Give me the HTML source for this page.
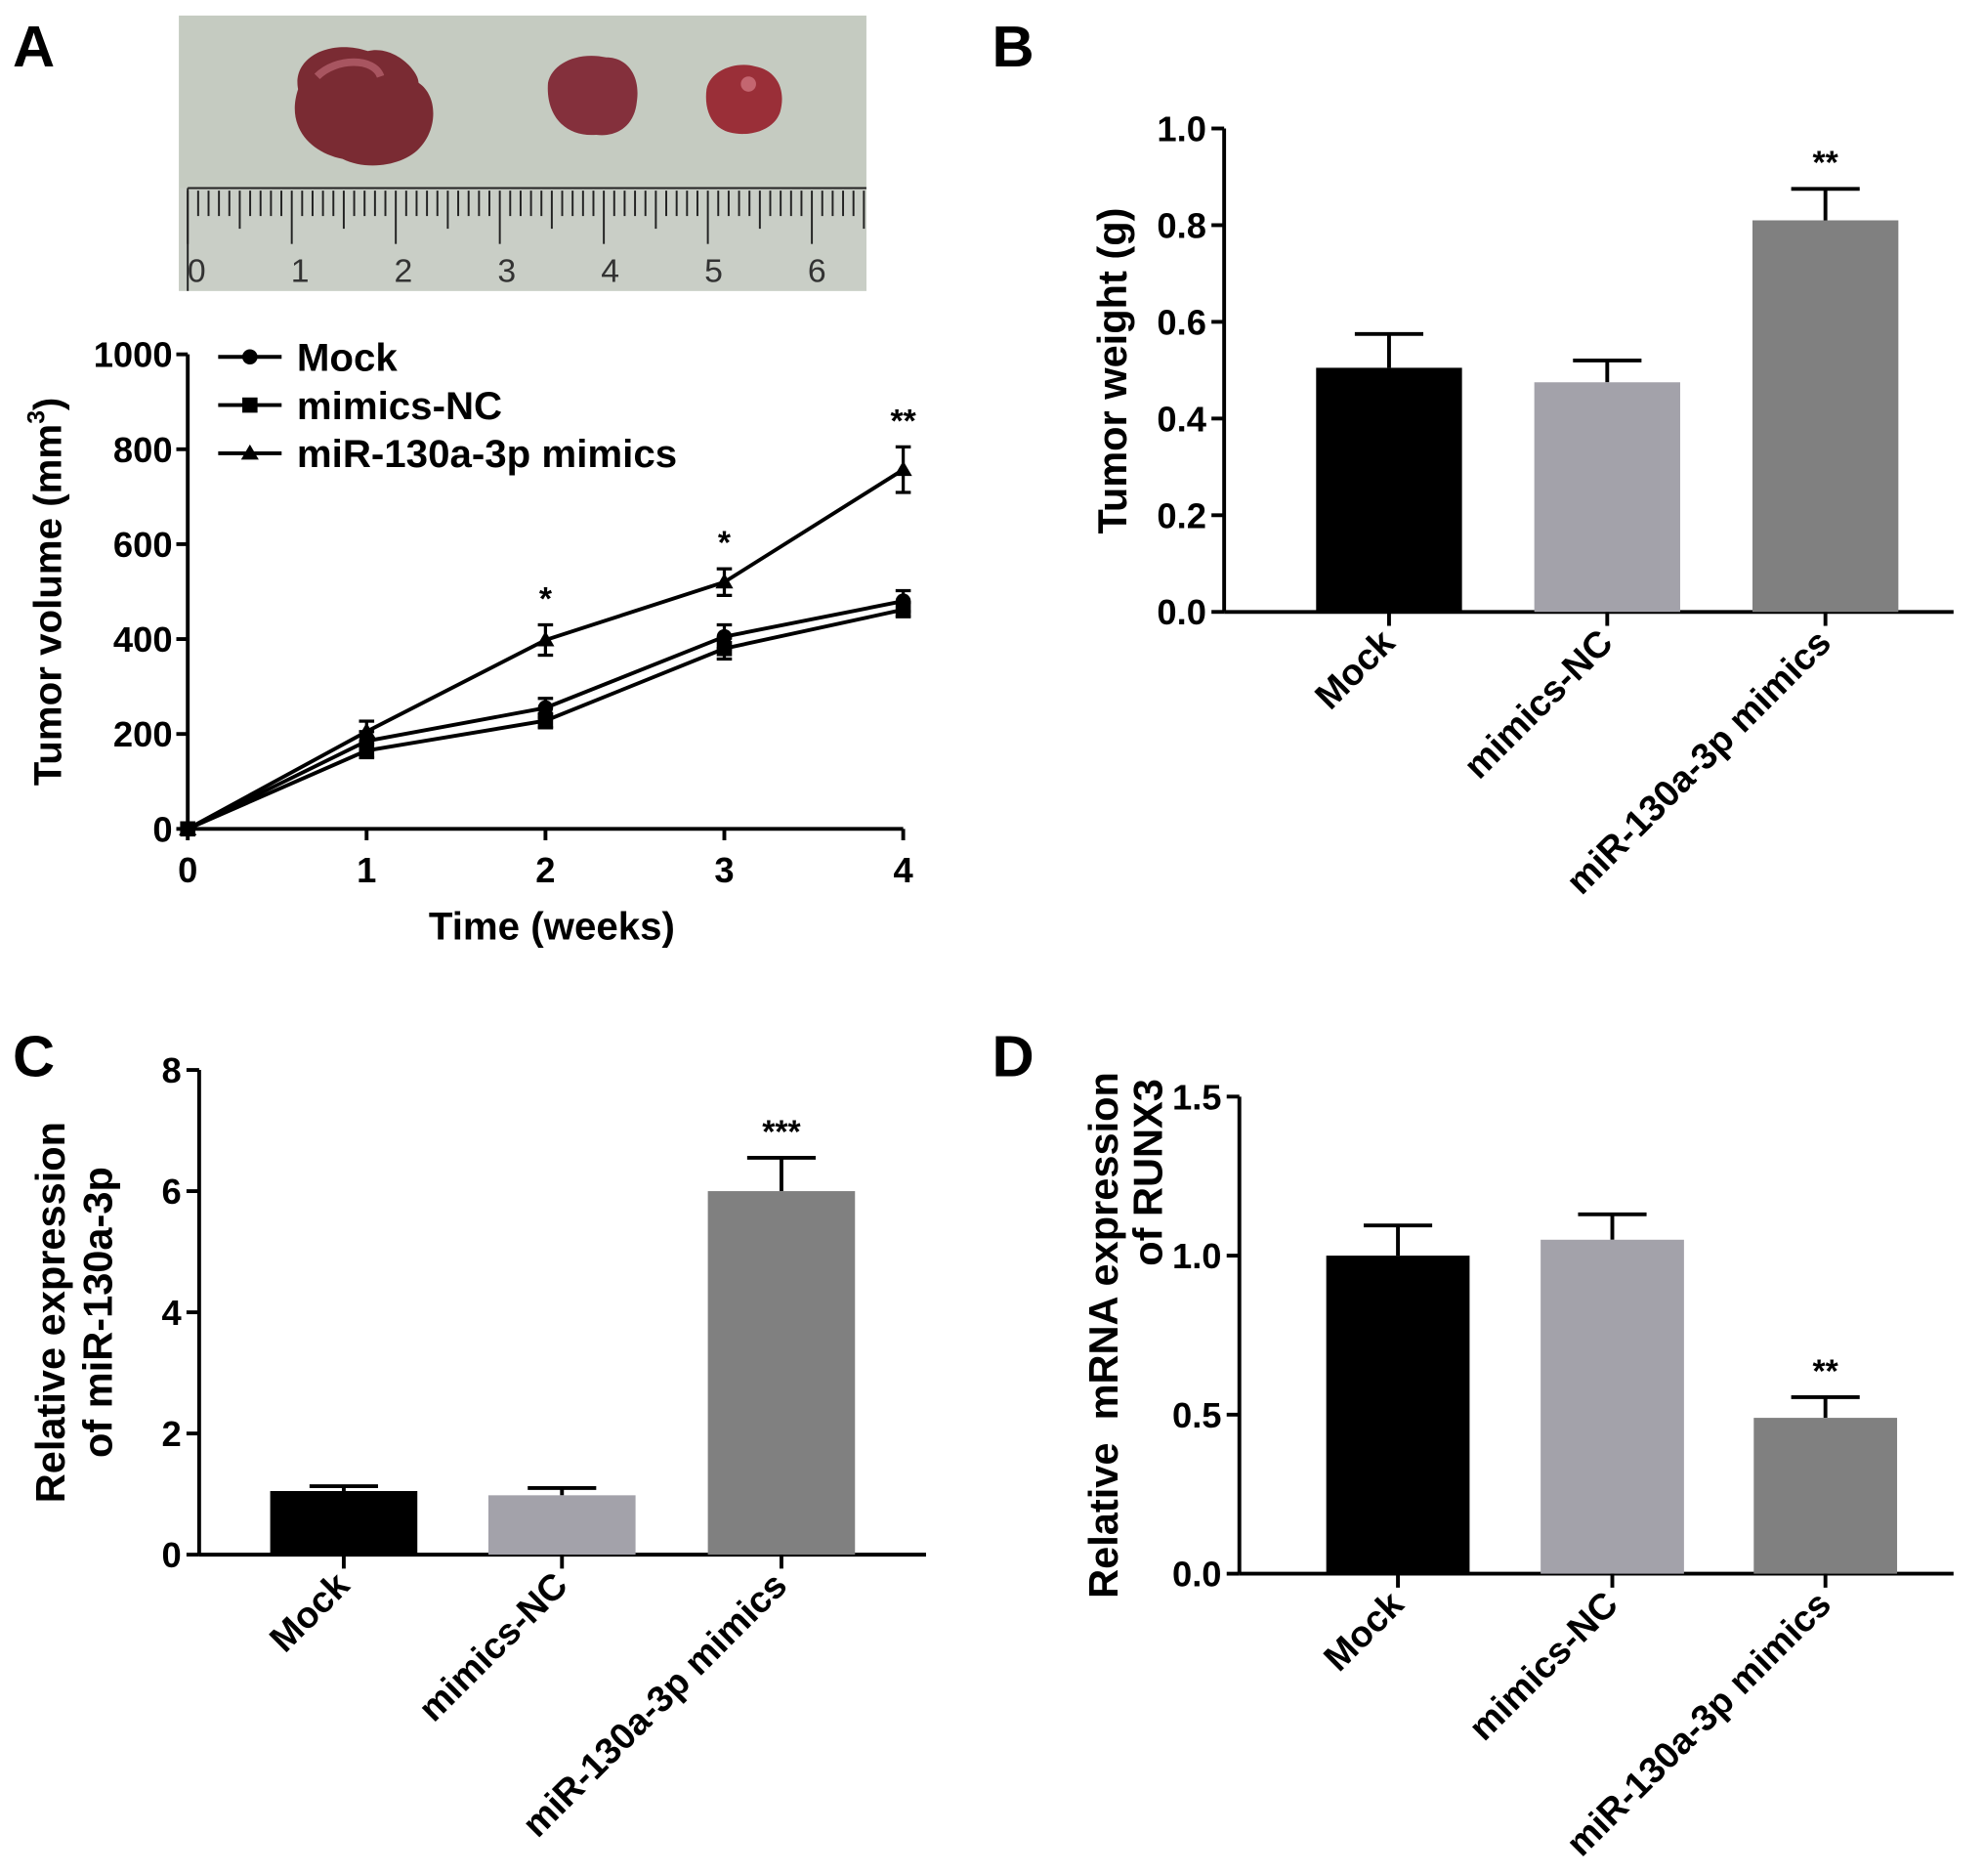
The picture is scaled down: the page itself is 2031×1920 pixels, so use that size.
<!DOCTYPE html>
<html><head><meta charset="utf-8"><style>
html,body{margin:0;padding:0;background:#fff}
svg{display:block}
text{font-family:"Liberation Sans",Arial,sans-serif;font-weight:bold;fill:#000}
text.thin{font-weight:normal;fill:#333}
</style></head><body>
<svg id="fig" width="2031" height="1920" viewBox="0 0 1564 1478" xmlns="http://www.w3.org/2000/svg">
<rect width="1564" height="1478" fill="#fff"/>
<text x="10" y="52" font-size="46">A</text>
<text x="782" y="52" font-size="46">B</text>
<text x="10" y="848" font-size="46">C</text>
<text x="782" y="848" font-size="46">D</text>
<g id="photo">
<rect x="141" y="12" width="542" height="217" fill="#c5cbc1"/>
<rect x="141" y="148" width="542" height="81" fill="#c9cec6"/>
<path d="M235 70 C230 45 260 30 290 40 C310 35 330 55 330 65 C345 75 345 100 332 115 C320 130 290 135 270 125 C245 120 225 100 235 70Z" fill="#7a2b33"/>
<path d="M250 60 C265 45 295 45 300 60" stroke="#a85560" stroke-width="6" fill="none"/>
<path d="M432 65 C435 50 455 40 478 45 C495 45 505 60 502 80 C500 100 485 108 470 106 C445 108 430 90 432 65Z" fill="#84303c"/>
<path d="M557 70 C560 55 580 48 595 52 C612 55 620 70 615 88 C610 103 590 108 575 104 C560 100 555 85 557 70Z" fill="#9a2f38"/>
<circle cx="590" cy="66" r="6" fill="#c46670"/>
<line x1="148" y1="148" x2="683" y2="148" stroke="#222" stroke-width="1.5"/>
<line x1="148" y1="148" x2="148" y2="229" stroke="#222" stroke-width="1.5"/>
<g id="ruler" stroke="#222" stroke-width="1.5"></g>
<g id="rulerNums" font-size="26"></g>
</g>
<g id="chartA"></g>
<g id="chartB"></g>
<g id="chartC"></g>
<g id="chartD"></g>
</svg>
<script>
// ---- Panel A data ----
const weeks = [0, 1, 2, 3, 4];
const mockVol = [0, 185, 255, 405, 480];
const mockErr = [0, 20, 20, 25, 22];
const ncVol = [0, 165, 228, 380, 462];
const ncErr = [0, 15, 15, 22, 15];
const mirVol = [0, 205, 398, 520, 757];
const mirErr = [0, 22, 32, 28, 48];
const volTicks = [0, 200, 400, 600, 800, 1000];
const volSig = ['', '', '*', '*', '**'];
// ---- Bar charts ----
const groups = ['Mock', 'mimics-NC', 'miR-130a-3p mimics'];
const weightVals = [0.505, 0.475, 0.81];
const weightErr = [0.07, 0.045, 0.065];
const weightTicks = ['0.0', '0.2', '0.4', '0.6', '0.8', '1.0'];
const weightSig = ['', '', '**'];
const mirVals = [1.05, 0.98, 6.0];
const mirErrs = [0.08, 0.12, 0.55];
const mirTicks = ['0', '2', '4', '6', '8'];
const mirSig = ['', '', '***'];
const runxVals = [1.0, 1.05, 0.49];
const runxErr = [0.095, 0.08, 0.065];
const runxTicks = ['0.0', '0.5', '1.0', '1.5'];
const runxSig = ['', '', '**'];

const NS = 'http://www.w3.org/2000/svg';
function mk(parent, tag, attrs, txt) {
  const e = document.createElementNS(NS, tag);
  for (const k in attrs) e.setAttribute(k, attrs[k]);
  if (txt !== undefined) e.textContent = txt;
  parent.appendChild(e);
  return e;
}
// ruler
const rg = document.getElementById('ruler');
for (let i = 0; i <= 65; i++) {
  const x = 148 + i * 8.2;
  const len = i % 10 === 0 ? 42 : (i % 5 === 0 ? 30 : 20);
  mk(rg, 'line', {x1: x, y1: 150, x2: x, y2: 150 + len});
}
const rn = document.getElementById('rulerNums');
for (let i = 0; i <= 6; i++) {
  const t = mk(rn, 'text', {x: 155 + i * 81.5, y: 222, 'text-anchor': 'middle', class: 'thin'}, String(i));
  
  
}

// ---- Line chart A ----
(function () {
  const g = document.getElementById('chartA');
  const x0 = 148, x1 = 712, yb = 653, yt = 279;
  const X = w => x0 + (x1 - x0) * w / 4;
  const Y = v => yb - (yb - yt) * v / 1000;
  mk(g, 'line', {x1: x0, y1: yt, x2: x0, y2: yb, stroke: '#000', 'stroke-width': 3});
  mk(g, 'line', {x1: x0, y1: yb, x2: x1, y2: yb, stroke: '#000', 'stroke-width': 3});
  volTicks.forEach(v => {
    mk(g, 'line', {x1: x0 - 9, y1: Y(v), x2: x0, y2: Y(v), stroke: '#000', 'stroke-width': 3});
    const t = mk(g, 'text', {x: x0 - 12, y: Y(v) + 10, 'text-anchor': 'end', 'font-size': 28}, String(v));
    
    
  });
  weeks.forEach(w => {
    mk(g, 'line', {x1: X(w), y1: yb, x2: X(w), y2: yb + 9, stroke: '#000', 'stroke-width': 3});
    const t = mk(g, 'text', {x: X(w), y: yb + 42, 'text-anchor': 'middle', 'font-size': 28}, String(w));
    
    
  });
  const xt = mk(g, 'text', {x: 435, y: 740, 'text-anchor': 'middle', 'font-size': 31}, 'Time (weeks)');
  
  
  const yt2 = mk(g, 'text', {transform: 'translate(48,466) rotate(-90)', 'text-anchor': 'middle', 'font-size': 31}, '');
  
  
  mk(yt2, 'tspan', {}, 'Tumor volume (mm');
  mk(yt2, 'tspan', {dy: -13, 'font-size': 19}, '3');
  mk(yt2, 'tspan', {dy: 13}, ')');
  const series = [[mockVol, mockErr, 'circle', 'mock'], [ncVol, ncErr, 'square', 'mimics-nc'], [mirVol, mirErr, 'triangle', 'mir-130a-3p']];
  function marker(p, kind, x, y) {
    if (kind === 'circle') return mk(p, 'circle', {cx: x, cy: y, r: 6, fill: '#000'});
    if (kind === 'square') return mk(p, 'rect', {x: x - 6, y: y - 6, width: 12, height: 12, fill: '#000'});
    return mk(p, 'polygon', {points: `${x},${y - 7} ${x - 7},${y + 5} ${x + 7},${y + 5}`, fill: '#000'});
  }
  series.forEach(([vals, errs, kind, nm]) => {
    const sg = mk(g, 'g', {});
    
    
    mk(sg, 'polyline', {points: vals.map((v, i) => X(weeks[i]) + ',' + Y(v)).join(' '), fill: 'none', stroke: '#000', 'stroke-width': 3});
    vals.forEach((v, i) => {
      if (errs[i] > 0) {
        const x = X(weeks[i]);
        mk(sg, 'line', {x1: x, y1: Y(v - errs[i]), x2: x, y2: Y(v + errs[i]), stroke: '#000', 'stroke-width': 2.5});
        mk(sg, 'line', {x1: x - 6, y1: Y(v - errs[i]), x2: x + 6, y2: Y(v - errs[i]), stroke: '#000', 'stroke-width': 2.5});
        mk(sg, 'line', {x1: x - 6, y1: Y(v + errs[i]), x2: x + 6, y2: Y(v + errs[i]), stroke: '#000', 'stroke-width': 2.5});
      }
      const m = marker(sg, kind, X(weeks[i]), Y(v));
      
      
    });
  });
  volSig.forEach((s, i) => {
    if (!s) return;
    const t = mk(g, 'text', {x: X(weeks[i]), y: Y(mirVol[i] + mirErr[i]) - 12, 'text-anchor': 'middle', 'font-size': 26}, s);
    
    
  });
  const names = ['Mock', 'mimics-NC', 'miR-130a-3p mimics'];
  const kinds = ['circle', 'square', 'triangle'];
  names.forEach((n, i) => {
    const y = 281 + i * 38;
    const lg = mk(g, 'g', {});
    
    
    mk(lg, 'line', {x1: 172, y1: y, x2: 222, y2: y, stroke: '#000', 'stroke-width': 3});
    marker(lg, kinds[i], 197, y);
    mk(lg, 'text', {x: 234, y: y + 11, 'font-size': 31}, n);
  });
})();

// ---- Bar chart helper ----
const colors = ['#000000', '#a3a2aa', '#808080'];
function barChart(id, cfg) {
  const g = document.getElementById(id);
  const {ax, yb, yt, vmax, vals, errs, ticks, sig, centers, bw, xend, title} = cfg;
  const Y = v => yb - (yb - yt) * v / vmax;
  mk(g, 'line', {x1: ax, y1: yt, x2: ax, y2: yb, stroke: '#000', 'stroke-width': 3});
  mk(g, 'line', {x1: ax, y1: yb, x2: xend, y2: yb, stroke: '#000', 'stroke-width': 3});
  ticks.forEach(tk => {
    const v = parseFloat(tk);
    mk(g, 'line', {x1: ax - 10, y1: Y(v), x2: ax, y2: Y(v), stroke: '#000', 'stroke-width': 3});
    const t = mk(g, 'text', {x: ax - 14, y: Y(v) + 10, 'text-anchor': 'end', 'font-size': 28}, tk);
    
    
  });
  vals.forEach((v, i) => {
    const cx = centers[i];
    const top = Y(v + errs[i]);
    mk(g, 'line', {x1: cx, y1: Y(v), x2: cx, y2: top, stroke: '#000', 'stroke-width': 3});
    mk(g, 'line', {x1: cx - 27, y1: top, x2: cx + 27, y2: top, stroke: '#000', 'stroke-width': 3});
    const b = mk(g, 'rect', {x: cx - bw / 2, y: Y(v), width: bw, height: yb - Y(v), fill: colors[i]});
    
    
    mk(g, 'line', {x1: cx, y1: yb, x2: cx, y2: yb + 11, stroke: '#000', 'stroke-width': 3});
    const t = mk(g, 'text', {transform: `translate(${cx + 6},${yb + 26}) rotate(-45)`, 'text-anchor': 'end', 'font-size': 29}, groups[i]);
    
    
    if (sig[i]) {
      const s = mk(g, 'text', {x: cx, y: top - 12, 'text-anchor': 'middle', 'font-size': 26}, sig[i]);
      
      
    }
  });
  title.forEach(([txt, x, y, anchor]) => {
    const t = mk(g, 'text', {transform: `translate(${x},${y}) rotate(-90)`, 'text-anchor': anchor || 'middle', 'font-size': 32}, txt);
    
    
  });
}
barChart('chartB', {ax: 965, yb: 482, yt: 101, vmax: 1.0, vals: weightVals, errs: weightErr, ticks: weightTicks, sig: weightSig,
  centers: [1095, 1267, 1439], bw: 115, xend: 1540, title: [['Tumor weight (g)', 888, 292]]});
barChart('chartC', {ax: 157, yb: 1225, yt: 843, vmax: 8, vals: mirVals, errs: mirErrs, ticks: mirTicks, sig: mirSig,
  centers: [271, 443, 616], bw: 116, xend: 730, title: [['Relative expression', 51, 1034], ['of miR-130a-3p', 88, 1034]]});
barChart('chartD', {ax: 977, yb: 1240, yt: 864, vmax: 1.5, vals: runxVals, errs: runxErr, ticks: runxTicks, sig: runxSig,
  centers: [1102, 1271, 1439], bw: 113, xend: 1540, title: [['Relative\u00a0\u00a0mRNA expression', 881, 1052], ['of RUNX3', 916, 850, 'end']]});
</script>
</body></html>
